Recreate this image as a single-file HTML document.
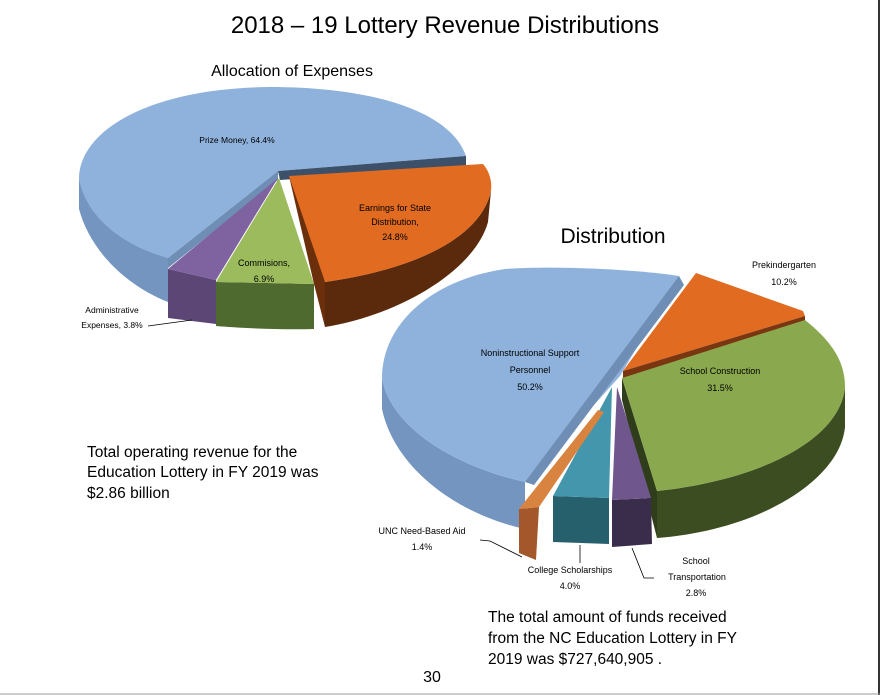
<!DOCTYPE html>
<html><head><style>
html,body{margin:0;padding:0;background:#fff}
svg{display:block}
text{font-family:"Liberation Sans",sans-serif;fill:#000}
.s{font-size:9px;text-anchor:middle}
</style></head><body>
<svg width="880" height="695" viewBox="0 0 880 695">
<line x1="879" y1="0" x2="879" y2="695" stroke="#333" stroke-width="2"/>
<line x1="0" y1="694" x2="880" y2="694" stroke="#999" stroke-width="1"/>
<text x="445" y="33" font-size="24" text-anchor="middle">2018 – 19 Lottery Revenue Distributions</text>
<text x="292" y="76" font-size="16" text-anchor="middle">Allocation of Expenses</text>

<!-- Pie 1 -->
<path d="M79,178 L79,209 C90,250 125,285 168,302 L168,258 C120,240 85,210 79,178 Z" fill="#7395c0"/>
<path d="M278,171 L466,156 C450,110 370,87 270,87 C150,88 80,130 79,178 C85,215 120,245 168,258 Z" fill="#8eb2dc"/>
<path d="M278,171 L466,156 L466,167 L280,180 Z" fill="#3c5069"/>
<path d="M278,171 L168,258 L168,268 L278,180 Z" fill="#6f8eb5"/>
<path d="M168,269 L216,280 L216,324 L168,318 Z" fill="#5c4676"/>
<path d="M278,178 L168,269 L216,280 Z" fill="#7f62a0"/>
<path d="M216,282 L314,284 L314,329 C280,330 240,328 216,326 Z" fill="#4f6a2e"/>
<path d="M279,178 L216,282 L314,284 Z" fill="#9bbb5c"/>
<path d="M289,176 L300,176 L325,282 L325,327 L314,284 Z" fill="#6b2f0b"/>
<path d="M325,282 C410,270 480,240 491,191 L488,222 C475,270 400,315 325,327 Z" fill="#5b290b"/>
<path d="M289,176 L483,164 C490,172 492,182 491,191 C480,240 410,270 325,282 Z" fill="#e06b21"/>

<text x="237" y="143" font-size="8.5" text-anchor="middle">Prize Money, 64.4%</text>
<text class="s" x="395" y="211" font-size="8.5">Earnings for State</text>
<text class="s" x="395" y="225" font-size="8.5">Distribution,</text>
<text class="s" x="395" y="240" font-size="8.5">24.8%</text>
<text class="s" x="264" y="266">Commisions,</text>
<text class="s" x="264" y="282">6.9%</text>
<text x="112" y="313" font-size="8.5" text-anchor="middle">Administrative</text>
<text x="112" y="328" font-size="8.5" text-anchor="middle">Expenses, 3.8%</text>
<line x1="148" y1="326" x2="192" y2="320" stroke="#000" stroke-width="0.8"/>

<!-- Pie 2 -->
<text x="613" y="243" font-size="21" text-anchor="middle">Distribution</text>
<path d="M382,378 L382,409 C395,470 460,515 525,529 L525,482 C450,465 390,425 382,378 Z" fill="#7395c0"/>
<path d="M620,376 L679,276 C640,270 560,265 505,269 C430,280 382,325 382,378 C390,425 450,465 525,482 Z" fill="#8eb2dc"/>
<path d="M679,276 L684,285 L534,485 L525,482 Z" fill="#6f8eb5"/>
<path d="M623,371 L696,273 L803,311 L805,316 Z" fill="#e06b21"/>
<path d="M623,371 L805,316 L805,322 L623,378 Z" fill="#7a3610"/>
<path d="M845,387 L845,427 C840,480 760,530 657,538 L657,491 C760,480 840,440 845,387 Z" fill="#3d4d22"/>
<path d="M622,378 L657,491 L657,538 L622,400 Z" fill="#2f3d1a"/>
<path d="M622,378 L805,320 C830,340 845,360 845,387 C840,440 760,480 657,491 Z" fill="#8aa94f"/>
<path d="M612,500 L651,498 L652,544 L612,547 Z" fill="#3a2c4b"/>
<path d="M617,387 L612,500 L651,498 Z" fill="#6f578e"/>
<path d="M553,496 L609,498 L609,544 L553,542 Z" fill="#27606d"/>
<path d="M612,387 L553,496 L609,498 Z" fill="#4396ac"/>
<path d="M519,509 L539,507 L536,560 L519,553 Z" fill="#a4572a"/>
<path d="M598,410 L604,412 L539,507 L519,509 Z" fill="#d98340"/>

<text class="s" x="530" y="356">Noninstructional Support</text>
<text class="s" x="530" y="373">Personnel</text>
<text class="s" x="530" y="390">50.2%</text>
<text class="s" x="784" y="268">Prekindergarten</text>
<text class="s" x="784" y="285">10.2%</text>
<text class="s" x="720" y="374">School Construction</text>
<text class="s" x="720" y="391">31.5%</text>
<text class="s" x="422" y="534">UNC Need-Based Aid</text>
<text class="s" x="422" y="550">1.4%</text>
<polyline points="480,540 490,541 522,557" fill="none" stroke="#000" stroke-width="0.8"/>
<text class="s" x="570" y="573">College Scholarships</text>
<text class="s" x="570" y="589">4.0%</text>
<line x1="580" y1="545" x2="580" y2="563" stroke="#000" stroke-width="0.8"/>
<text class="s" x="696" y="564">School</text>
<text class="s" x="697" y="580">Transportation</text>
<text class="s" x="696" y="596">2.8%</text>
<polyline points="632,548 644,578 654,578" fill="none" stroke="#000" stroke-width="0.8"/>

<text x="87" y="457" font-size="15.5">Total operating revenue for the</text>
<text x="87" y="477" font-size="15.5">Education Lottery in FY 2019 was</text>
<text x="87" y="498" font-size="15.5">$2.86 billion</text>
<text x="488" y="622" font-size="15.5">The total amount of funds received</text>
<text x="488" y="643" font-size="15.5">from the NC Education Lottery in FY</text>
<text x="488" y="664" font-size="15.5">2019 was $727,640,905 .</text>
<text x="432" y="682" font-size="16" text-anchor="middle">30</text>
</svg>
</body></html>
